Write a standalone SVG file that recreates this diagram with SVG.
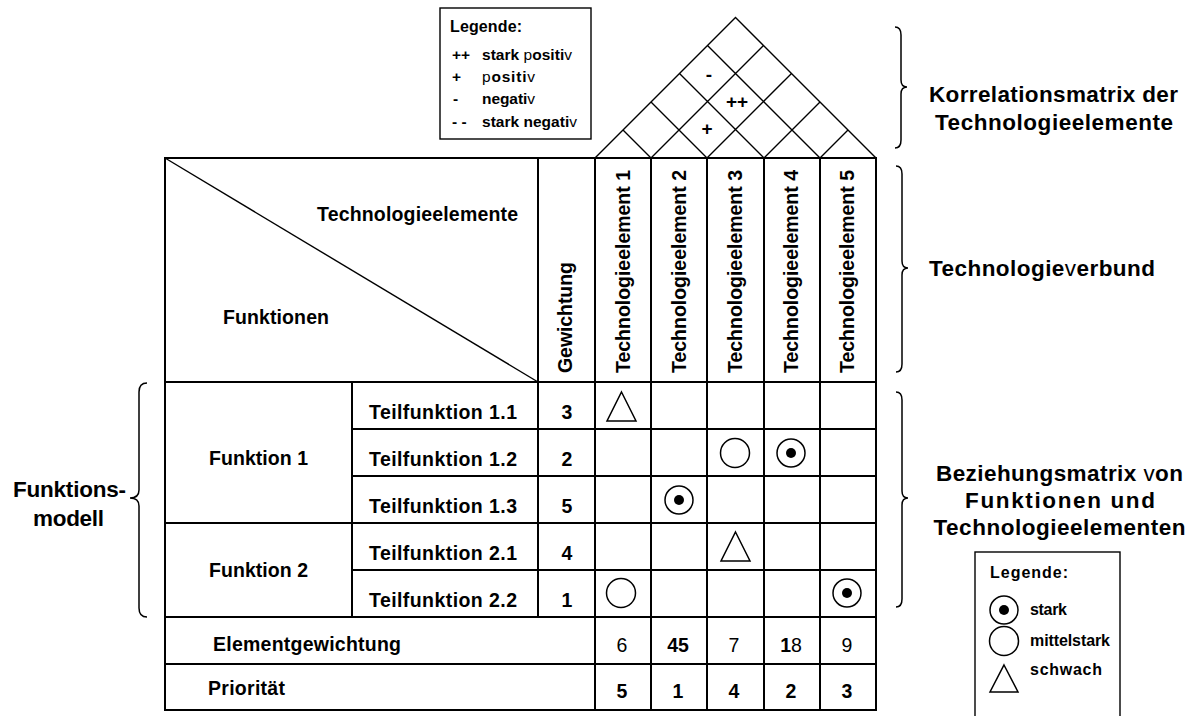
<svg xmlns="http://www.w3.org/2000/svg" width="1192" height="716" viewBox="0 0 1192 716">
  <style>
    text { font-family: "Liberation Sans", Arial, sans-serif; fill: #000; }
    .b { font-weight: bold; }
    .n { font-weight: normal; }
    .t17 { font-size: 19.5px; }
    .t19 { font-size: 22.5px; }
    .t14 { font-size: 16px; }
    .lg { font-size: 15.5px; }
    .lg2 { font-size: 16px; }
    .mid { text-anchor: middle; }
    .grid { stroke: #000; stroke-width: 2; fill: none; }
    .thin { stroke: #000; stroke-width: 1.4; fill: none; }
    .sym { stroke: #000; stroke-width: 1.5; fill: #fff; }
    .brace { stroke: #000; stroke-width: 1.5; fill: none; }
  </style>
  <defs>
    <g id="sym-strong">
      <circle r="14" class="sym"/>
      <circle r="5" fill="#000"/>
    </g>
    <g id="sym-medium">
      <circle r="14.5" class="sym"/>
    </g>
    <g id="sym-weak">
      <polygon points="0,-14.5 14.5,14.5 -14.5,14.5" class="sym"/>
    </g>
  </defs>

  <rect width="1192" height="716" fill="#fff"/>

  <!-- correlation roof -->
  <g id="roof">
    <polyline class="thin" points="595,158 735.5,17.5 876,158"/>
    <path class="thin" d="M651,158 L763.5,45.5 M651,158 L623,130
                          M707,158 L791.5,73.5 M707,158 L651,102
                          M764,158 L820,102 M764,158 L679.5,73.5
                          M820,158 L848,130 M820,158 L707.5,45.5"/>
    <text class="b mid" style="font-size:19px" x="709" y="81">-</text>
    <text class="b mid" style="font-size:19px" x="737" y="108">++</text>
    <text class="b mid" style="font-size:19px" x="707" y="135">+</text>
  </g>

  <!-- legend for the roof -->
  <g id="legend-correlation">
    <rect x="440" y="8" width="151" height="131" class="thin" fill="#fff"/>
    <text class="b t14" x="450" y="32" textLength="72">Legende:</text>
    <text class="b lg" x="452" y="60">++</text>
    <text class="b lg" x="482" y="60" textLength="90"><tspan>stark </tspan><tspan class="n">p</tspan><tspan>ositi</tspan><tspan class="n">v</tspan></text>
    <text class="b lg" x="452" y="82">+</text>
    <text class="n lg" x="482" y="82" textLength="53"><tspan>p</tspan><tspan class="b">ositi</tspan><tspan>v</tspan></text>
    <text class="b lg" x="453" y="104">-</text>
    <text class="b lg" x="482" y="104" textLength="53"><tspan>negati</tspan><tspan class="n">v</tspan></text>
    <text class="b lg" x="452" y="127">- -</text>
    <text class="b lg" x="482" y="127" textLength="95"><tspan>stark negati</tspan><tspan class="n">v</tspan></text>
  </g>

  <!-- header block -->
  <g id="header">
    <rect x="165" y="158" width="711" height="224" class="grid"/>
    <line x1="165" y1="158" x2="538" y2="382" class="thin"/>
    <text class="b t17 mid" x="417.5" y="221" textLength="201">Technologieelemente</text>
    <text class="b t17 mid" x="276" y="324" textLength="106">Funktionen</text>
    <text class="b t17 mid" transform="translate(572,317.5) rotate(-90)" textLength="111">Gewichtung</text>
    <text class="b t17 mid" transform="translate(629.5,271.5) rotate(-90)" textLength="203">Technologieelement 1</text>
    <text class="b t17 mid" transform="translate(685.5,271.5) rotate(-90)" textLength="203">Technologieelement 2</text>
    <text class="b t17 mid" transform="translate(741.5,271.5) rotate(-90)" textLength="203">Technologieelement 3</text>
    <text class="b t17 mid" transform="translate(798,271.5) rotate(-90)" textLength="203">Technologieelement 4</text>
    <text class="b t17 mid" transform="translate(854,271.5) rotate(-90)" textLength="203">Technologieelement 5</text>
  </g>

  <!-- table grid -->
  <g id="grid">
    <rect x="165" y="382" width="711" height="328" class="grid"/>
    <path class="grid" d="M538,158 V617 M595,158 V710 M651,158 V710 M707,158 V710 M764,158 V710 M820,158 V710
                          M352,382 V617
                          M352,429 H876 M352,476 H876 M165,523 H876 M352,570 H876
                          M165,617 H876 M165,664 H876"/>
  </g>

  <!-- functions -->
  <g id="functions">
    <text class="b t17 mid" x="258.5" y="465" textLength="99">Funktion 1</text>
    <text class="b t17 mid" x="258.5" y="577" textLength="99">Funktion 2</text>
    <text class="b t17 mid" x="443" y="419" textLength="148">Teilfunktion 1.1</text>
    <text class="b t17 mid" x="443" y="466" textLength="148">Teilfunktion 1.2</text>
    <text class="b t17 mid" x="443" y="513" textLength="148">Teilfunktion 1.3</text>
    <text class="b t17 mid" x="443" y="560" textLength="148">Teilfunktion 2.1</text>
    <text class="b t17 mid" x="443" y="607" textLength="148">Teilfunktion 2.2</text>
    <text class="b t17 mid" x="567" y="419">3</text>
    <text class="b t17 mid" x="567" y="466">2</text>
    <text class="b t17 mid" x="567" y="513">5</text>
    <text class="b t17 mid" x="567" y="560">4</text>
    <text class="b t17 mid" x="567" y="607">1</text>
  </g>

  <!-- relationship symbols -->
  <g id="relations">
    <use href="#sym-weak" x="621.5" y="406.5"/>
    <use href="#sym-medium" x="735" y="453"/>
    <use href="#sym-strong" x="791" y="453"/>
    <use href="#sym-strong" x="679" y="500"/>
    <use href="#sym-weak" x="735.5" y="546.5"/>
    <use href="#sym-medium" x="621" y="593"/>
    <use href="#sym-strong" x="847" y="593"/>
  </g>

  <!-- totals -->
  <g id="totals">
    <text class="b t17" x="213" y="651" textLength="188">Elementgewichtung</text>
    <text class="b t17" x="208" y="695" textLength="77">Priorität</text>
    <text class="n t17 mid" x="622" y="652">6</text>
    <text class="b t17 mid" x="678" y="652">45</text>
    <text class="n t17 mid" x="734" y="652">7</text>
    <text class="n t17 mid" x="791" y="652"><tspan class="b">1</tspan>8</text>
    <text class="n t17 mid" x="847" y="652">9</text>
    <text class="b t17 mid" x="622" y="698">5</text>
    <text class="b t17 mid" x="678" y="698">1</text>
    <text class="b t17 mid" x="734" y="698">4</text>
    <text class="b t17 mid" x="791" y="698">2</text>
    <text class="b t17 mid" x="847" y="698">3</text>
  </g>

  <!-- braces -->
  <g id="braces">
    <path class="brace" d="M147,383 Q139,383 139,392 L139,490 Q139,498 130,498 Q139,498 139,506 L139,608 Q139,617 147,617"/>
    <path class="brace" d="M895,27 Q901,27 901,35 L901,80 Q901,87 907,87 Q901,87 901,94 L901,140 Q901,148 895,148"/>
    <path class="brace" d="M896,166 Q902,166 902,174 L902,261 Q902,268 908,268 Q902,268 902,275 L902,364 Q902,372 896,372"/>
    <path class="brace" d="M896,392 Q902,392 902,400 L902,491 Q902,498 908,498 Q902,498 902,505 L902,599 Q902,607 896,607"/>
  </g>

  <!-- side labels -->
  <g id="labels">
    <text class="b t19 mid" x="69.5" y="497" textLength="113">Funktions-</text>
    <text class="b t19 mid" x="68.5" y="526" textLength="71">modell</text>
    <text class="b t19 mid" x="1053.5" y="102" textLength="249">Korrelationsmatrix der</text>
    <text class="b t19 mid" x="1054" y="130" textLength="238">Technologieelemente</text>
    <text class="b t19" x="929" y="276" textLength="226"><tspan>Technologie</tspan><tspan class="n">v</tspan><tspan>erbund</tspan></text>
    <text class="b t19 mid" x="1059.5" y="481" textLength="247"><tspan>Beziehungsmatrix </tspan><tspan class="n">v</tspan><tspan>on</tspan></text>
    <text class="b t19 mid" x="1060" y="508" textLength="190">Funktionen und</text>
    <text class="b t19 mid" x="1059.5" y="535" textLength="252">Technologieelementen</text>
  </g>

  <!-- legend for the relationship symbols -->
  <g id="legend-relations">
    <rect x="975" y="552" width="145" height="172" class="thin" fill="#fff"/>
    <text class="b t14" x="990" y="578" textLength="78">Legende:</text>
    <use href="#sym-strong" x="1004" y="610"/>
    <text class="b lg2" x="1030" y="615" textLength="37">stark</text>
    <use href="#sym-medium" x="1004" y="641"/>
    <text class="b lg2" x="1030" y="646" textLength="80">mittelstark</text>
    <polygon points="1004,665 1018,692 990,692" class="sym"/>
    <text class="b lg2" x="1030" y="675" textLength="72">schwach</text>
  </g>
</svg>
